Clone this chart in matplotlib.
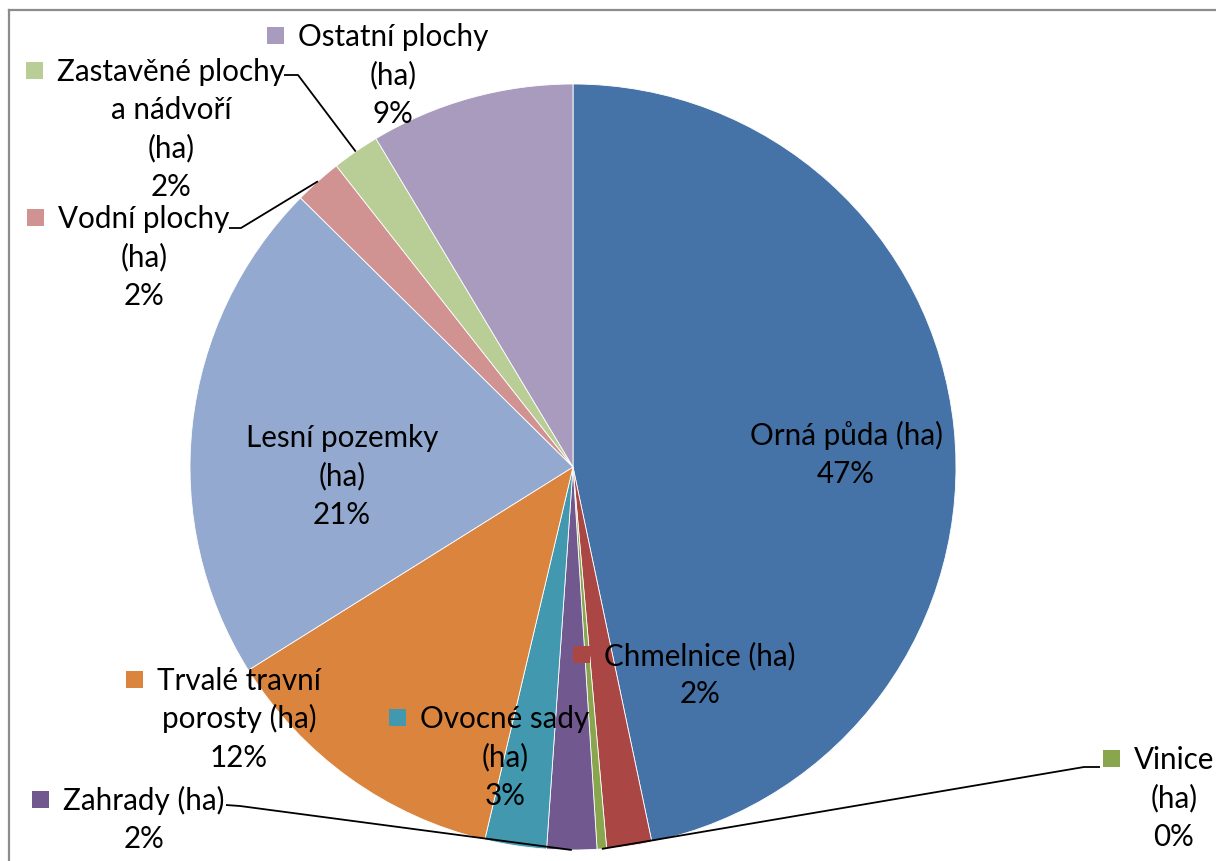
import matplotlib
matplotlib.use('Agg')
import matplotlib.pyplot as plt
from matplotlib.patches import Rectangle
from matplotlib.lines import Line2D
import numpy as np

# ---- data ----
categories = ["Orná půda (ha)", "Chmelnice (ha)", "Vinice (ha)", "Zahrady (ha)",
              "Ovocné sady (ha)", "Trvalé travní porosty (ha)", "Lesní pozemky (ha)",
              "Vodní plochy (ha)", "Zastavěné plochy a nádvoří (ha)", "Ostatní plochy (ha)"]
values = [46.7, 1.9, 0.4, 2.1, 2.6, 12.4, 21.3, 2.0, 2.0, 8.6]
colors = ["#4572A7", "#AA4643", "#89A54E", "#71588F", "#4198AF",
          "#DB843D", "#93A9CF", "#D19392", "#B9CD96", "#A99BBD"]

W, H = 1216, 862
def Y(y):
    return H - y

FONT = ['Lato', 'DejaVu Sans']
FS = 21.3
LS = 38.3

fig = plt.figure(figsize=(W / 100, H / 100), dpi=100)
ax = fig.add_axes([0, 0, 1, 1])
cx, cy, R = 573, Y(468), 383
wedges, _ = ax.pie(values, colors=colors, startangle=90, counterclock=False,
                   center=(cx, cy), radius=R,
                   wedgeprops=dict(edgecolor='white', linewidth=0.6))
ax.set_xlim(0, W)
ax.set_ylim(0, H)
ax.set_aspect('auto')
ax.axis('off')

# frame
ax.add_line(Line2D([9, 9], [0, Y(11)], color='#8c8c8c', lw=1.6))
ax.add_line(Line2D([9, W], [Y(11), Y(11)], color='#8c8c8c', lw=1.6))

# label layout: index -> (wrapped lines, center x, first baseline (top-down), key)
layout = {
    0: (["Orná půda (ha)"], 846, 445, False),
    1: (["Chmelnice (ha)"], 700, 665, True),
    2: (["Vinice", "(ha)"], 1174, 769, True),
    3: (["Zahrady (ha)"], 144, 810, True),
    4: (["Ovocné sady", "(ha)"], 505, 728, True),
    5: (["Trvalé travní", "porosty (ha)"], 239, 690, True),
    6: (["Lesní pozemky", "(ha)"], 342, 447, False),
    7: (["Vodní plochy", "(ha)"], 144, 228, True),
    8: (["Zastavěné plochy", "a nádvoří", "(ha)"], 171, 81, True),
    9: (["Ostatní plochy", "(ha)"], 393, 46, True),
}

first_texts = {}
for i, (lines, x, b, key) in layout.items():
    pct = f"{round(values[i])}%"
    allines = lines + [pct]
    for j, ln in enumerate(allines):
        t = ax.text(x, Y(b + j * LS), ln, ha='center', va='baseline',
                    fontsize=FS, family=FONT, color='black')
        if j == 0:
            first_texts[i] = t

fig.canvas.draw()
renderer = fig.canvas.get_renderer()
for i, (lines, x, b, key) in layout.items():
    if key:
        bb = first_texts[i].get_window_extent(renderer)
        ax.add_patch(Rectangle((bb.x0 - 14 - 17, Y(b) + 1), 17, 17,
                               facecolor=colors[i], edgecolor='none'))

# leader lines: index -> (start, elbow) in top-down pixel coords
leaders = {
    8: ((284, 76), (298, 76)),
    7: ((229, 229), (241, 229)),
    3: ((226, 806), (240, 807)),
    2: ((1100, 768), (1084, 768)),
}
for i, ((sx, sy), (ex, ey)) in leaders.items():
    w = wedges[i]
    th = np.deg2rad((w.theta1 + w.theta2) / 2)
    px, py = cx + R * np.cos(th), cy + R * np.sin(th)
    ax.plot([sx, ex, px], [Y(sy), Y(ey), py], color='black', lw=1.3,
            solid_capstyle='butt')

fig.savefig('out.png', dpi=100)
